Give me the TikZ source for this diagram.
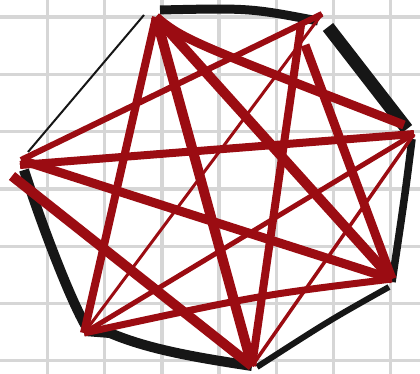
\documentclass[tikz,border=0pt]{standalone}
\definecolor{gridgray}{RGB}{214,214,214}
\definecolor{inkblack}{RGB}{22,22,22}
\definecolor{inkred}{RGB}{155,12,18}
\tikzset{
  gridline/.style={draw=gridgray,line width=3.3pt},
  edgeline/.style={draw=inkblack,line cap=butt,line join=round},
  diag/.style={draw=inkred,line cap=butt,line join=round},
}
\begin{document}
\begin{tikzpicture}[x=1pt,y=-1pt]
\useasboundingbox (0,0) rectangle (420,374);
\fill[white] (0,0) rectangle (420,374);
% grid
\foreach \gx in {47.5,104.7,161.9,219.1,276.3,333.5,390.7}
  \draw[gridline] (\gx,0) -- (\gx,374);
\foreach \gy in {17,74.3,131.6,188.9,246.2,303.5,360.8}
  \draw[gridline] (0,\gy) -- (420,\gy);
% vertex coordinates (black outline)
\coordinate (a1) at (160,10);
\coordinate (a2) at (318,21);
\coordinate (b2) at (328,27);
\coordinate (b3) at (407,129);
\coordinate (c3) at (412,139);
\coordinate (c4) at (392,282);
\coordinate (d4) at (389,287);
\coordinate (d5) at (257,367);
\coordinate (e5) at (252,366);
\coordinate (e6) at (85,331);
\coordinate (f6) at (87,328);
\coordinate (f7) at (24,170);
\coordinate (g7) at (28,152);
\coordinate (g1) at (144,15);
% black edges
\draw[edgeline,line width=9pt] (a1) .. controls (250,8) .. (a2);
\draw[edgeline,line width=13pt] (b2) -- (b3);
\draw[edgeline,line width=7.5pt] (c3) .. controls (405,195) .. (c4);
\draw[edgeline,line width=6pt] (d4) .. controls (330,320) .. (d5);
\draw[edgeline,line width=10pt] (e5) .. controls (200,358) and (150,350) .. (110,333) -- (e6);
\draw[edgeline,line width=10pt] (f6) .. controls (70,300) and (40,220) .. (f7);
\draw[edgeline,line width=2pt] (g7) -- (g1);
% red vertex coordinates
\coordinate (r1) at (156,17);
\coordinate (r2) at (322,14);
\coordinate (r2b) at (301,25);
\coordinate (r2c) at (305,45);
\coordinate (r3) at (414,134);
\coordinate (r3b) at (404,125);
\coordinate (r4) at (392,279);
\coordinate (r5) at (252,366);
\coordinate (r6) at (84,333);
\coordinate (r7) at (21,160);
\coordinate (r7b) at (12,176);
\coordinate (r7c) at (20,165);
% red diagonals
\draw[diag,line width=9pt] (r1) .. controls (185,40) .. (r3b);
\draw[diag,line width=10pt] (r1) -- (r4);
\draw[diag,line width=10pt] (r1) -- (r5);
\draw[diag,line width=8pt] (r1) -- (r6);
\draw[diag,line width=9pt] (r2c) -- (r4);
\draw[diag,line width=8pt] (r2b) -- (r5);
\draw[diag,line width=3pt] (r2) -- (r6);
\draw[diag,line width=6pt] (r2) -- (r7);
\draw[diag,line width=3.5pt] (r3) -- (r5);
\draw[diag,line width=5pt] (r3) -- (r6);
\draw[diag,line width=8pt] (r3) -- (r7c);
\draw[diag,line width=7pt] (r4) .. controls (260,295) .. (r6);
\draw[diag,line width=9pt] (r4) -- (r7);
\draw[diag,line width=10pt] (r7b) -- (r5);
\end{tikzpicture}
\end{document}
